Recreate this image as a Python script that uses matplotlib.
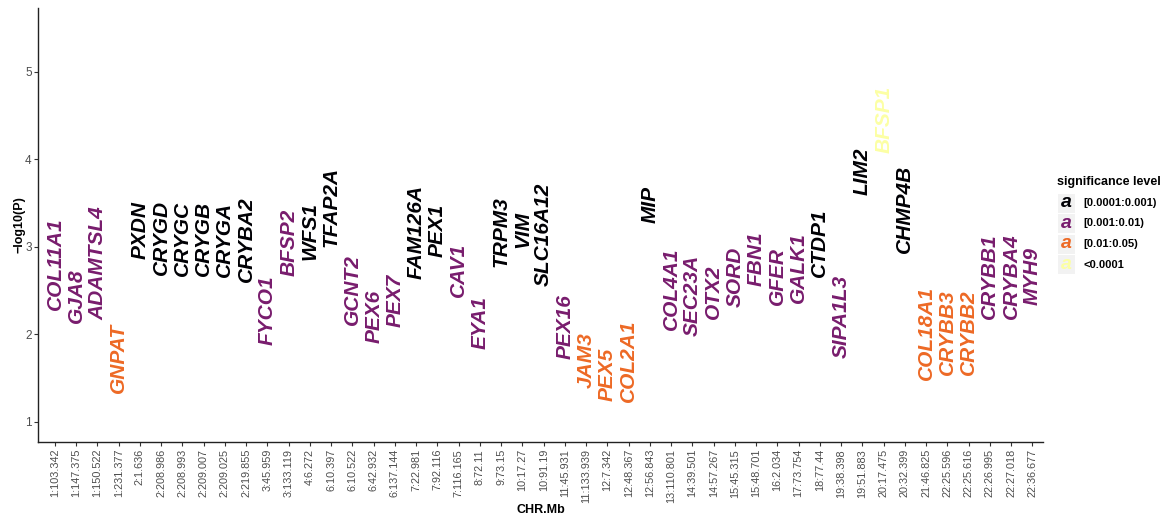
import matplotlib
matplotlib.use("Agg")
import matplotlib.pyplot as plt
from matplotlib.patches import Rectangle

plt.rcParams["font.family"] = ["Liberation Sans", "DejaVu Sans"]

# posiciones CHR:Mb (eje x)
chr_mb = ["1:103.342", "1:147.375", "1:150.522", "1:231.377", "2:1.636", "2:208.986",
          "2:208.993", "2:209.007", "2:209.025", "2:219.855", "3:45.959", "3:133.119",
          "4:6.272", "6:10.397", "6:10.522", "6:42.932", "6:137.144", "7:22.981",
          "7:92.116", "7:116.165", "8:72.11", "9:73.15", "10:17.27", "10:91.19",
          "11:45.931", "11:133.939", "12:7.342", "12:48.367", "12:56.843", "13:110.801",
          "14:39.501", "14:57.267", "15:45.315", "15:48.701", "16:2.034", "17:73.754",
          "18:77.44", "19:38.398", "19:51.883", "20:17.475", "20:32.399", "21:46.825",
          "22:25.596", "22:25.616", "22:26.995", "22:27.018", "22:36.677"]

genes = ["COL11A1", "GJA8", "ADAMTSL4", "GNPAT", "PXDN", "CRYGD", "CRYGC", "CRYGB",
         "CRYGA", "CRYBA2", "FYCO1", "BFSP2", "WFS1", "TFAP2A", "GCNT2", "PEX6", "PEX7",
         "FAM126A", "PEX1", "CAV1", "EYA1", "TRPM3", "VIM", "SLC16A12", "PEX16", "JAM3",
         "PEX5", "COL2A1", "MIP", "COL4A1", "SEC23A", "OTX2", "SORD", "FBN1", "GFER",
         "GALK1", "CTDP1", "SIPA1L3", "LIM2", "BFSP1", "CHMP4B", "COL18A1", "CRYBB3",
         "CRYBB2", "CRYBB1", "CRYBA4", "MYH9"]

log_p = [2.81, 2.44, 2.82, 1.73, 3.19, 3.11, 3.10, 3.10, 3.09, 3.09, 2.28, 3.05, 3.18,
         3.46, 2.51, 2.21, 2.39, 3.17, 3.19, 2.74, 2.14, 3.18, 3.20, 3.14, 2.09, 1.71,
         1.54, 1.70, 3.48, 2.52, 2.45, 2.49, 2.66, 2.86, 2.67, 2.76, 3.05, 2.20, 3.87,
         4.46, 3.43, 2.02, 2.03, 2.03, 2.67, 2.67, 2.67]

# nivel de significancia de cada gen
sig = ["b", "b", "b", "c", "a", "a", "a", "a", "a", "a", "b", "b", "a", "a", "b", "b", "b",
       "a", "a", "b", "b", "a", "a", "a", "b", "c", "c", "c", "a", "b", "b", "b", "b", "b",
       "b", "b", "a", "b", "a", "d", "a", "c", "c", "c", "b", "b", "b"]

niveles = ["a", "b", "c", "d"]
etiquetas = {"a": "[0.0001:0.001)", "b": "[0.001:0.01)", "c": "[0.01:0.05)", "d": "<0.0001"}
colores = {"a": "#000004", "b": "#781C6D", "c": "#ED6925", "d": "#FCFFA4"}

fig = plt.figure(figsize=(11.64, 5.14), dpi=100)
ax = fig.add_axes([38 / 1164, 72 / 514, (1043 - 38) / 1164, (442 - 8) / 514])

for i, (g, lp, s) in enumerate(zip(genes, log_p, sig)):
    ax.text(i, lp, g, rotation=90, ha="center", va="center", fontsize=15,
            fontweight="bold", fontstyle="italic", color=colores[s])

ax.set_xlim(-0.8, len(genes) - 0.5)
ax.set_ylim(0.77, 5.73)
ax.set_xticks(range(len(chr_mb)))
ax.set_xticklabels(chr_mb, rotation=90, fontsize=7.8, color="#4D4D4D")
ax.set_yticks([1, 2, 3, 4, 5])
ax.tick_params(axis="y", labelsize=8.5, labelcolor="#4D4D4D", color="#333333",
               length=3, pad=1.5)
ax.tick_params(axis="x", color="#333333", length=3, pad=2)
for s in ["top", "right"]:
    ax.spines[s].set_visible(False)
for s in ["left", "bottom"]:
    ax.spines[s].set_color("#222222")
    ax.spines[s].set_linewidth(1)

ax.set_xlabel("CHR.Mb", fontsize=9, fontweight="bold", labelpad=1)
ax.set_ylabel("\u2212log10(P)", fontsize=9, fontweight="bold", labelpad=0)

# leyenda manual
W, H = 1164, 514
fig.text(1057 / W, 1 - 182 / H, "significance level", fontsize=9, fontweight="bold",
         ha="left", va="center")
for k, niv in enumerate(niveles):
    yc = 203 + 20.5 * k
    fig.patches.append(Rectangle((1058 / W, 1 - (yc + 9.5) / H), 17 / W, 19 / H,
                                 transform=fig.transFigure, facecolor="#F2F2F2",
                                 edgecolor="none"))
    fig.text(1066.5 / W, 1 - yc / H, "a", fontsize=14, fontweight="bold",
             fontstyle="italic", color=colores[niv], ha="center", va="center")
    fig.text(1083 / W, 1 - yc / H, etiquetas[niv], fontsize=8, fontweight="bold",
             ha="left", va="center")

fig.savefig("out.png", dpi=100)
